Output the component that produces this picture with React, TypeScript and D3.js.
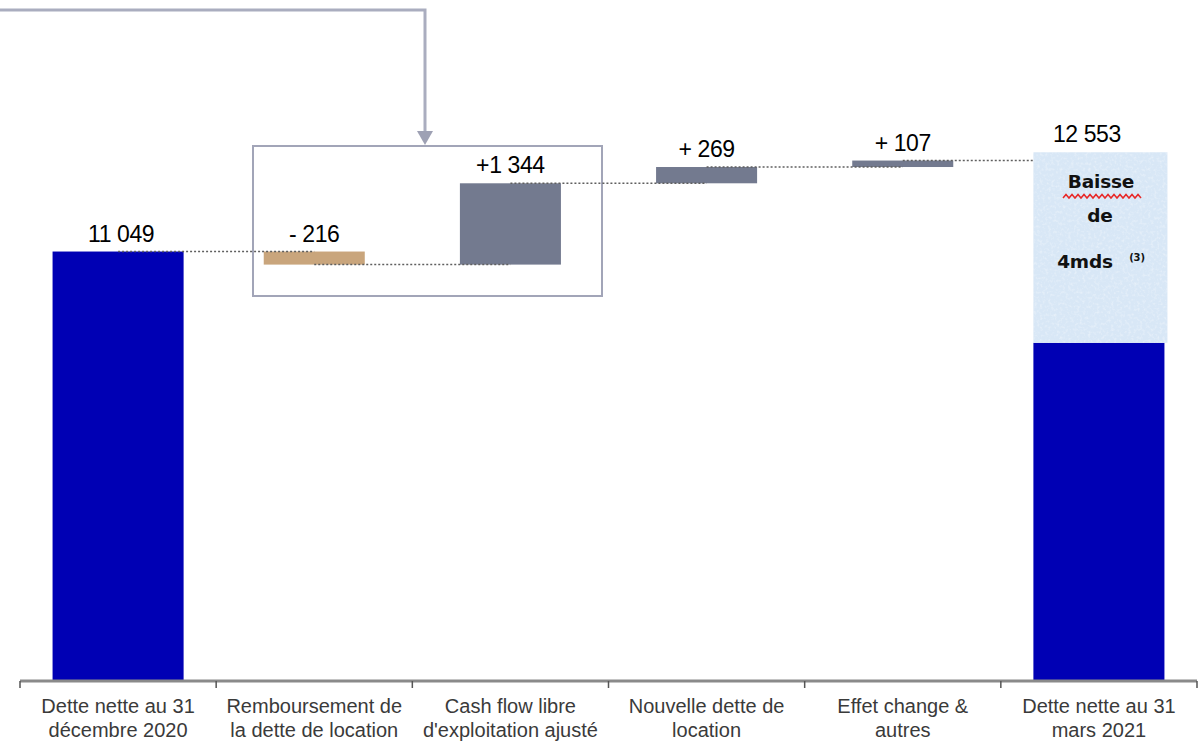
import React from "react";
import * as d3 from "d3";

// waterfall: net debt bridge (M€)
const categories = [
  ["Dette nette au 31", "décembre 2020"],
  ["Remboursement de", "la dette de location"],
  ["Cash flow libre", "d'exploitation ajusté"],
  ["Nouvelle dette de", "location"],
  ["Effet change &", "autres"],
  ["Dette nette au 31", "mars 2021"],
];
const startValue = 11049;
const deltas = [-216, 1344, 269, 107];
const endValue = 12553;
const endSolid = 9540; // dark part of the closing bar
const hatchTop = 12690; // top of the light "baisse" box
const valueLabels = ["11 049", "- 216", "+1 344", "+ 269", "+ 107", "12 553"];

const W = 1201;
const H = 743;
const baseY = 681;

const App = () => {
  const keys = categories.map((_, i) => String(i));
  const x = d3.scaleBand().domain(keys).range([20, 1197]).padding(0);
  const y = d3.scaleLinear().domain([3950, 13000]).range([baseY, 133.5]);
  const bw = x.bandwidth();

  // build steps
  let level = startValue;
  const steps = deltas.map((d, i) => {
    const from = level;
    level += d;
    return { key: String(i + 1), from, to: level, d };
  });

  const cx = (k: string) => (x(k) as number) + bw / 2;
  const endW = bw * 0.668;
  const stepW = bw * 0.515;

  // connector levels: between bar i and i+1
  const levels = [startValue, ...steps.map((s) => s.to)];

  const tops = [
    y(startValue),
    ...steps.map((s) => y(Math.max(s.from, s.to))),
    y(hatchTop),
  ];

  const lastKey = keys[keys.length - 1];
  const hatchX = cx(lastKey) - endW / 2;

  // red spellcheck squiggle under "Baisse"
  const squiggle = d3.range(0, 27).map((i) => [1063 + i * 3, i % 2 ? 194.5 : 198]);

  return (
    <svg
      width={W}
      height={H}
      style={{ position: "absolute", left: 0, top: 0, background: "#fff" }}
    >
      <defs>
        <filter id="grain" x="0" y="0" width="100%" height="100%">
          <feTurbulence type="fractalNoise" baseFrequency="0.35" numOctaves={2} seed={3} result="n" />
          <feColorMatrix
            in="n"
            type="matrix"
            values="0 0 0 0 1  0 0 0 0 1  0 0 0 0 1  0 0 0 1.6 -0.75"
          />
          <feComposite in2="SourceGraphic" operator="in" />
        </filter>
      </defs>

      {/* arrow from above */}
      <path d="M0,10 H425 V132" fill="none" stroke="#aaadbf" strokeWidth={3} />
      <polygon points="417,131 433,131 425,145" fill="#9ea1b4" />
      <rect x={253} y={146} width={349} height={150} fill="none" stroke="#a2a5b8" strokeWidth={2} />

      {/* opening bar */}
      <rect
        x={cx("0") - endW / 2}
        y={y(startValue)}
        width={endW}
        height={baseY - y(startValue)}
        fill="#0000b4"
      />

      {/* floating steps */}
      {steps.map((s) => (
        <rect
          key={s.key}
          x={cx(s.key) - stepW / 2}
          y={y(Math.max(s.from, s.to))}
          width={stepW}
          height={Math.abs(y(s.from) - y(s.to))}
          fill={s.d < 0 ? "#c9a57c" : "#737a8f"}
        />
      ))}

      {/* dotted connectors */}
      {levels.map((v, i) => (
        <line
          key={i}
          x1={cx(keys[i])}
          x2={cx(keys[i + 1])}
          y1={y(v)}
          y2={y(v)}
          stroke="#5f5f5f"
          strokeWidth={1.5}
          strokeDasharray="2,2"
        />
      ))}

      {/* closing bar */}
      <rect
        x={cx(lastKey) - endW / 2}
        y={y(endSolid)}
        width={endW}
        height={baseY - y(endSolid)}
        fill="#0000b4"
      />
      <rect
        x={hatchX}
        y={y(hatchTop)}
        width={endW + 3}
        height={y(endSolid) - y(hatchTop)}
        fill="#d8e7f6"
      />
      <rect
        x={hatchX}
        y={y(hatchTop)}
        width={endW + 3}
        height={y(endSolid) - y(hatchTop)}
        fill="#fff"
        filter="url(#grain)"
        opacity={0.55}
      />
      <g fontFamily="DejaVu Sans, sans-serif" fontWeight="bold" fontSize={18.5} fill="#111" textAnchor="middle" letterSpacing={-0.2}>
        <text x={1101} y={188}>Baisse</text>
        <text x={1100} y={222}>de</text>
        <text x={1085} y={268}>4mds</text>
        <text x={1137} y={261} fontSize={10}>(3)</text>
      </g>
      <path d={d3.line()(squiggle as [number, number][]) || ""} fill="none" stroke="#e82828" strokeWidth={1.5} />

      {/* value labels */}
      <g fontFamily="Liberation Sans, Arial, sans-serif" fontSize={23} fill="#000" textAnchor="middle" letterSpacing={-0.4}>
        {valueLabels.map((t, i) => (
          <text key={i} x={cx(keys[i]) + (i === keys.length - 1 ? -12 : i === 0 ? 3 : 0)} y={tops[i] - 10}>
            {t}
          </text>
        ))}
      </g>

      {/* axis */}
      <line x1={20} x2={1197} y1={baseY} y2={baseY} stroke="#8a8a8a" strokeWidth={3} />
      {[...keys.map((k) => x(k) as number), 1197].map((t, i) => (
        <line key={i} x1={t} x2={t} y1={baseY} y2={baseY + 7} stroke="#555" strokeWidth={1.5} />
      ))}
      <g fontFamily="Liberation Sans, Arial, sans-serif" fontSize={20} fill="#3a3a3a" textAnchor="middle">
        {categories.map((lines, i) => (
          <text key={i} x={cx(keys[i])} y={713}>
            <tspan x={cx(keys[i])}>{lines[0]}</tspan>
            <tspan x={cx(keys[i])} y={737}>{lines[1]}</tspan>
          </text>
        ))}
      </g>
    </svg>
  );
};

export default App;
